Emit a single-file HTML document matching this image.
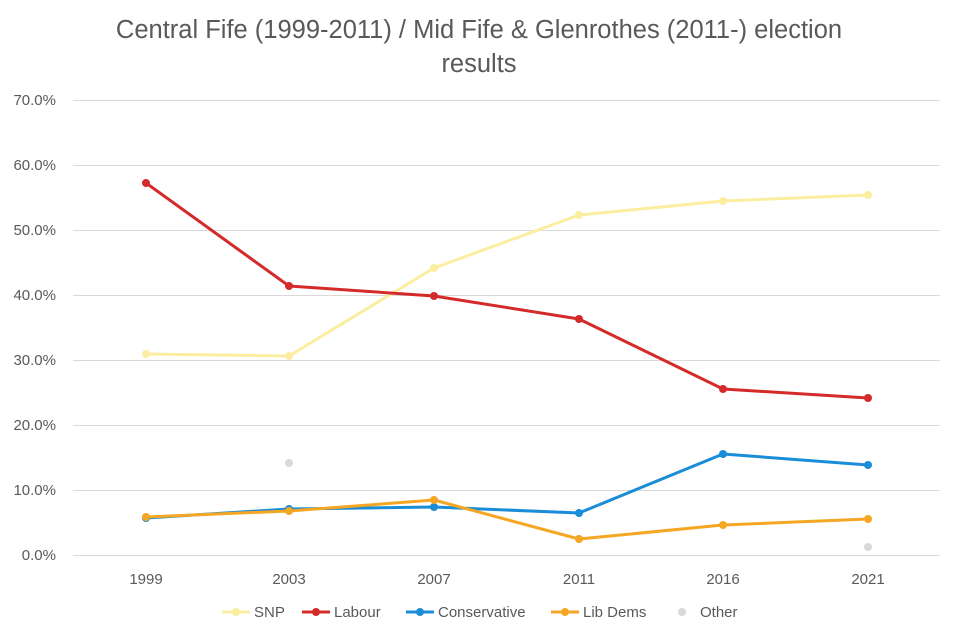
<!DOCTYPE html>
<html><head><meta charset="utf-8"><style>
html,body{margin:0;padding:0;background:#fff;}
svg{display:block;font-family:"Liberation Sans",sans-serif;}
</style></head><body>
<svg width="960" height="640" viewBox="0 0 960 640">
<rect width="960" height="640" fill="#fff"/>
<text x="479" y="38" text-anchor="middle" font-size="25.5" fill="#595959">Central Fife (1999-2011) / Mid Fife &amp; Glenrothes (2011-) election</text>
<text x="479" y="72" text-anchor="middle" font-size="25.5" fill="#595959">results</text>
<g stroke="#d9d9d9" stroke-width="1">
<line x1="73" y1="100.5" x2="940" y2="100.5"/>
<line x1="73" y1="165.5" x2="940" y2="165.5"/>
<line x1="73" y1="230.5" x2="940" y2="230.5"/>
<line x1="73" y1="295.5" x2="940" y2="295.5"/>
<line x1="73" y1="360.5" x2="940" y2="360.5"/>
<line x1="73" y1="425.5" x2="940" y2="425.5"/>
<line x1="73" y1="490.5" x2="940" y2="490.5"/>
<line x1="73" y1="555.5" x2="940" y2="555.5"/>
</g>
<g font-size="15" fill="#595959" text-anchor="end">
<text x="56" y="105">70.0%</text><text x="56" y="170">60.0%</text><text x="56" y="235">50.0%</text>
<text x="56" y="300">40.0%</text><text x="56" y="365">30.0%</text><text x="56" y="430">20.0%</text>
<text x="56" y="495">10.0%</text><text x="56" y="560">0.0%</text>
</g>
<g font-size="15" fill="#595959" text-anchor="middle">
<text x="146" y="584">1999</text><text x="289" y="584">2003</text><text x="434" y="584">2007</text>
<text x="579" y="584">2011</text><text x="723" y="584">2016</text><text x="868" y="584">2021</text>
</g>
<g fill="#d9d9d9"><circle cx="289" cy="463" r="4"/><circle cx="579" cy="539" r="4"/><circle cx="868" cy="547" r="4"/></g>
<g fill="none" stroke-width="3" stroke-linejoin="round">
<polyline stroke="#fbeea0" points="146,354 289,356 434,268 579,215 723,201 868,195"/>
<polyline stroke="#d42a2a" points="146,183 289,286 434,296 579,319 723,389 868,398"/>
<polyline stroke="#1a8cd8" points="146,518 289,509 434,507 579,513 723,454 868,465"/>
<polyline stroke="#f5a623" points="146,517 289,511 434,500 579,539 723,525 868,519"/>
</g>
<g fill="#fbeea0"><circle cx="146" cy="354" r="4"/><circle cx="289" cy="356" r="4"/><circle cx="434" cy="268" r="4"/><circle cx="579" cy="215" r="4"/><circle cx="723" cy="201" r="4"/><circle cx="868" cy="195" r="4"/></g>
<g fill="#d42a2a"><circle cx="146" cy="183" r="4"/><circle cx="289" cy="286" r="4"/><circle cx="434" cy="296" r="4"/><circle cx="579" cy="319" r="4"/><circle cx="723" cy="389" r="4"/><circle cx="868" cy="398" r="4"/></g>
<g fill="#1a8cd8"><circle cx="146" cy="518" r="4"/><circle cx="289" cy="509" r="4"/><circle cx="434" cy="507" r="4"/><circle cx="579" cy="513" r="4"/><circle cx="723" cy="454" r="4"/><circle cx="868" cy="465" r="4"/></g>
<g fill="#f5a623"><circle cx="146" cy="517" r="4"/><circle cx="289" cy="511" r="4"/><circle cx="434" cy="500" r="4"/><circle cx="579" cy="539" r="4"/><circle cx="723" cy="525" r="4"/><circle cx="868" cy="519" r="4"/></g>
<g font-size="15" fill="#595959">
<line x1="222" y1="612" x2="250" y2="612" stroke="#fbeea0" stroke-width="3"/><circle cx="236" cy="612" r="4" fill="#fbeea0"/><text x="254" y="617">SNP</text>
<line x1="302" y1="612" x2="330" y2="612" stroke="#d42a2a" stroke-width="3"/><circle cx="316" cy="612" r="4" fill="#d42a2a"/><text x="334" y="617">Labour</text>
<line x1="406" y1="612" x2="434" y2="612" stroke="#1a8cd8" stroke-width="3"/><circle cx="420" cy="612" r="4" fill="#1a8cd8"/><text x="438" y="617">Conservative</text>
<line x1="551" y1="612" x2="579" y2="612" stroke="#f5a623" stroke-width="3"/><circle cx="565" cy="612" r="4" fill="#f5a623"/><text x="583" y="617">Lib Dems</text>
<circle cx="682" cy="612" r="4" fill="#d9d9d9"/><text x="700" y="617">Other</text>
</g>
</svg>
</body></html>
